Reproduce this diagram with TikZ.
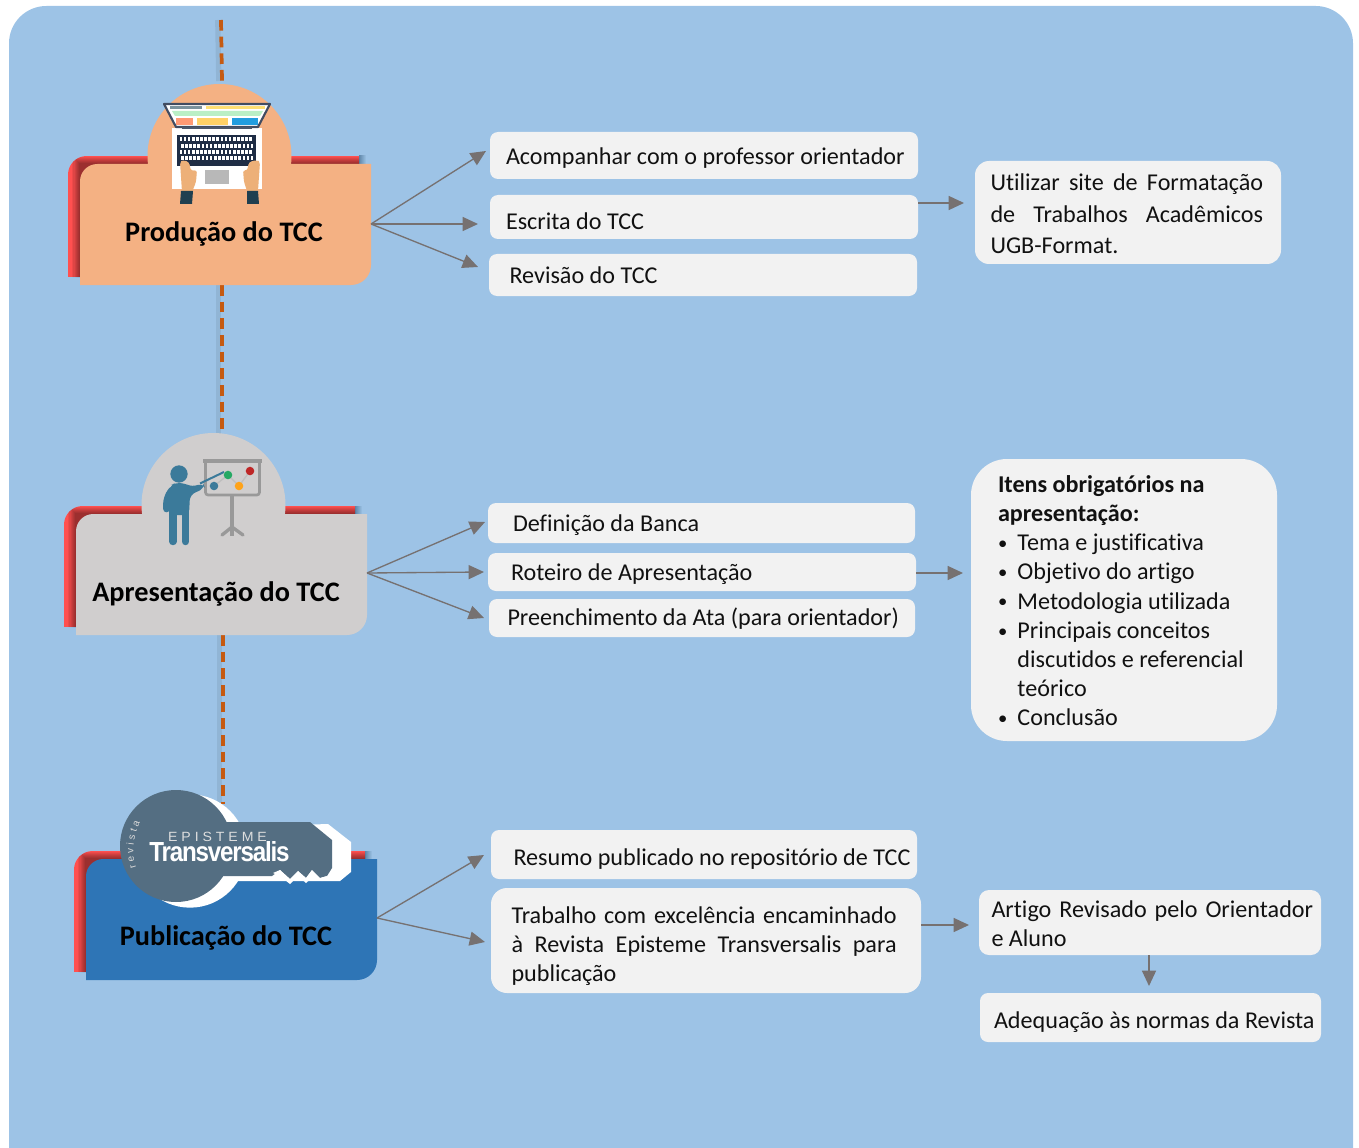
\documentclass[tikz,border=0pt]{standalone}
\usepackage{fontspec}
\setmainfont[Ligatures={TeX,CommonOff}]{Carlito}
\newfontfamily\keyfont{Liberation Sans}
\usetikzlibrary{arrows.meta,decorations.text}
\definecolor{bgblue}{HTML}{9DC3E6}
\definecolor{cardgray}{HTML}{F2F2F2}
\definecolor{peach}{HTML}{F4B183}
\definecolor{silver}{HTML}{D0CECE}
\definecolor{pubblue}{HTML}{2E75B6}
\definecolor{backred}{HTML}{FF5050}
\definecolor{dashor}{HTML}{C55A11}
\definecolor{arrgray}{HTML}{767171}
\definecolor{inkc}{HTML}{111111}
\definecolor{teal}{HTML}{3B7A9A}
\definecolor{keygray}{HTML}{546E82}
\definecolor{navyk}{HTML}{1F2D45}
\definecolor{shadeblue}{HTML}{5F86A8}
\tikzset{
 card/.style={fill=cardgray,draw=none,text=inkc,align=flush left,inner ysep=0pt,font=\fontsize{18.1}{21.9}\selectfont},
 title/.style={font=\fontsize{21.2}{25}\selectfont\bfseries,text=black,inner sep=0pt,anchor=base},
 flow/.style={draw=arrgray,line width=1pt,-{Triangle[length=11.5pt,width=10.5pt,fill=arrgray]}},
 trail/.style={draw=dashor,line width=2.8pt,dash pattern=on 8pt off 4.5pt},
 trailshade/.style={draw=black,opacity=.07,line width=4pt}
}
% name, x0, y0, x1, y1, radius, left offset, first baseline, text
\newcommand\bx[9]{%
 \pgfmathsetmacro\bxw{(#4-#2)*.75}\pgfmathsetmacro\bxh{(#5-#3)*.75}\pgfmathsetmacro\bxt{\bxw-2*#7*.75}\pgfmathsetmacro\bxr{#6*.75}\pgfmathsetmacro\bxs{#7*.75}\pgfmathsetmacro\bxu{max((#8+1.5-(#3+#5)/2)*1.5,0)}\pgfmathsetmacro\bxd{max(((#3+#5)/2-#8-1.5)*1.5,0)}%
 \node[card,rounded corners=\bxr pt,minimum width=\bxw pt,minimum height=\bxh pt,inner xsep=\bxs pt,text width=\bxt pt,text height=\bxu pt,text depth=\bxd pt] (#1) at ({(#2+#4)/2},{(#3+#5)/2}) {#9};}
\newcommand\jl[2]{\makebox[#1][s]{#2}}
\newcommand\bl{\makebox[14.6pt][l]{\raisebox{.9pt}{\fontsize{14}{14}\selectfont •}}}
% #1 x of main plate, #2 y of main plate, #3 fill, #4 circle x, #5 circle y
\newcommand\plate[5]{%
 \shade[left color=shadeblue,right color=bgblue] ({#1+279},{#2-8}) rectangle ({#1+286},{#2});
 \begin{scope}
 \path[clip] ({#1-12},{#2+113}) [rounded corners=14pt] -- ({#1-12},{#2-8}) [sharp corners] -- ({#1+279},{#2-8}) -- ({#1+279},{#2+113}) -- cycle;
 \fill[backred] ({#1-12},{#2-8}) rectangle ({#1+279},{#2+113});
 \foreach \k in {1,...,7}{
  \fill[black,opacity=.065] ({#1-\k*1.1},{#2-\k*1.0}) rectangle ({#1+291},{#2+125});}
 \end{scope}
 \fill[#3] ({#1},{#2+121}) [rounded corners=13pt] -- ({#1},{#2}) [sharp corners] -- ({#1+291},{#2}) [rounded corners=15pt] -- ({#1+291},{#2+121}) [sharp corners] -- cycle;
 \ifx&#4&\else\fill[#3] (#4,#5) circle[radius=54pt];\fi
}
\begin{document}
\begin{tikzpicture}[x=.75pt,y=-.75pt]
\useasboundingbox (0,0) rectangle (1359,1148);
\begin{scope}
\clip (0,0) rectangle (1359,1148);
\fill[bgblue,rounded corners=28pt] (9,6) rectangle (1353,1185);
\end{scope}
% trail anchors
\coordinate (t0) at (221,20);
\coordinate (t1) at (222,81);
\coordinate (t2) at (222,285);
\coordinate (t3) at (222,434);
\coordinate (t4) at (223,635);
\coordinate (t5) at (223,804);
\foreach \a/\b in {t0/t1,t2/t3,t4/t5}{
 \draw[trailshade] ([xshift=-2.4pt]\a) -- ([xshift=-2.4pt]\b);
 \draw[trail] (\a) -- (\b);}
% plates
\plate{80}{164}{peach}{219.5}{156}
\plate{76}{514}{silver}{213.5}{505}
\plate{86}{859}{pubblue}{}{}
% ---------- laptop ----------
\fill[white] (172,128) rectangle (262,189);
\fill[white,draw=navyk!85,line width=1.6pt,line join=round] (164,104) -- (270,104) -- (258,127) -- (176,127) -- cycle;
\fill[navyk!80] (182,127) rectangle (252,129);
\fill[teal!60!black!60!white] (170,106) rectangle (202,109);
\fill[orange!45!yellow!55] (206,106) rectangle (265,109);
\fill[teal!40!green!30!white] (172,111) -- (263,111) -- (260,116) -- (175,116) -- cycle;
\fill[red!45!orange!55] (176,118) rectangle (193,125);
\fill[orange!60!yellow!60] (197,118) rectangle (228,125);
\fill[cyan!80!blue!90] (232,118) rectangle (258,125);
\fill[navyk] (177,135) rectangle (256,166);
\foreach \r in {0,1,2,3}{\foreach \c in {0,...,17}{
 \fill[white] ({179.5+\c*4.1+mod(\r,2)*1.5},{137.5+\r*6.2}) rectangle ({182.2+\c*4.1+mod(\r,2)*1.5},{141.5+\r*6.2});}}
\fill[black!28] (205,170) rectangle (229,184);
\definecolor{skin}{HTML}{EDB078}\definecolor{sleeve}{HTML}{1F3F50}
\fill[skin,rounded corners=2pt] (180,162) -- (183,160) -- (189,162) -- (191,171) -- (197,170) -- (196,182) -- (192,192) -- (182,192) -- cycle;
\fill[skin,rounded corners=2pt] (260,162) -- (257,160) -- (249,162) -- (247,171) -- (243,170) -- (244,182) -- (247,191) -- (258,191) -- cycle;
\fill[sleeve] (181,191) -- (193,191) -- (192,204) -- (180,204) -- cycle;
\fill[sleeve] (247,191) -- (258,191) -- (259,204) -- (247,204) -- cycle;
% ---------- presenter ----------
\draw[black!40,line width=3pt] (203,461) -- (262,461);
\draw[black!40,line width=2pt,rounded corners=2pt] (205.5,463) -- (205.5,495) -- (259.5,495) -- (259.5,463);
\draw[black!40,line width=2.5pt] (232,495) -- (232,536);
\draw[black!40,line width=2.5pt,line cap=round] (222,535) -- (232,527) -- (243,535);
\draw[black!25,line width=1pt] (214,486) -- (228,475) -- (239,486) -- (250,471);
\fill[teal] (214,486) circle[radius=3.2pt];
\fill[green!35!teal] (228,475) circle[radius=3.2pt];
\fill[orange!80!yellow!90] (239,486) circle[radius=3.2pt];
\fill[red!70!black!85] (250,471) circle[radius=3.2pt];
\fill[teal] (179,474) circle[radius=6.5pt];
\fill[teal,rounded corners=4pt] (170,485) -- (176,483) -- (184,483) -- (192,487) -- (203,483) -- (205,488) -- (190,495) -- (189,515) -- (169,515) -- cycle;
\draw[teal,line width=5pt,line cap=round,rounded corners=5pt] (172,490) -- (166.5,497) -- (166.5,509);
\draw[teal,line width=5.6pt,line cap=round] (173,510) -- (173,541.5);
\draw[teal,line width=5.6pt,line cap=round] (185.5,510) -- (185.5,541.5);
\draw[teal,line width=1.5pt] (200,483.5) -- (224,472);
% ---------- key ----------
\fill[white] (190,851) circle[radius=42.5pt];
\fill[white] (205,828) -- (328,824) -- (351,842) -- (351,872) -- (340,881) -- (205,881) -- cycle;
\fill[keygray] (176,846) circle[radius=42pt];
\fill[keygray] (200,822) -- (310,822) -- (332,840) -- (332,868) -- (327,876) -- (320,878) -- (312,870) -- (306,878) -- (298,871) -- (290,879) -- (280,870) -- (272,876) -- (200,876) -- cycle;
\fill[white] (273,873) -- (280,870) -- (290,879) -- (298,871) -- (306,878) -- (312,870) -- (320,878) -- (327,876) -- (322,881) -- (314,876) -- (306,883) -- (298,876) -- (290,884) -- (280,876) -- cycle;
\path[decorate,decoration={text along path,text align=center,text={|\fontsize{7.5}{9}\keyfont\color{black!15}|r e v i s t a}}] (136,867) .. controls (131,852) and (134,836) .. (140,823);
\node[inner sep=0pt,text=black!13,font=\keyfont] (ep) at (217.5,836.5) {\resizebox{74pt}{7pt}{E P I S T E M E}};
\node[inner sep=0pt,text=white,font=\keyfont\bfseries\addfontfeature{LetterSpace=-5}] (tr) at (219.5,852) {\resizebox{105pt}{15pt}{Transversalis}};
% titles
\node[title] (nprod) at (224,242) {Produção do TCC};
\node[title] (napre) at (216,601.5) {Apresentação do TCC};
\node[title] (npubl) at (226,945.5) {Publicação do TCC};
\coordinate (oprod) at (371,224);
\coordinate (oapre) at (367,573);
\coordinate (opubl) at (377,918);
% cards
\bx{a1}{490}{132}{918}{179}{8}{16}{163.3}{\mbox{Acompanhar com o professor orientador}}
\bx{a2}{490}{195}{918}{239}{8}{16}{228}{\mbox{Escrita do TCC}}
\bx{a3}{489}{254}{917}{296}{8}{20.5}{281.7}{\mbox{Revisão do TCC}}
\bx{a4}{975}{161}{1281}{264}{14}{15.5}{189}{\jl{204.5pt}{Utilizar site de Formatação}\\[1.9pt]\jl{204.5pt}{de Trabalhos Acadêmicos}\\[1.9pt]UGB-Format.}
\bx{b1}{488}{503}{915}{543}{8}{25}{530}{\mbox{Definição da Banca}}
\bx{b2}{488}{553}{916}{591}{8}{23}{579}{\mbox{Roteiro de Apresentação}}
\bx{b3}{489}{599}{915}{637}{8}{18.5}{624.3}{\mbox{Preenchimento da Ata (para orientador)}}
\bx{b4}{971}{459}{1277}{741}{36}{27}{490.7}{\textbf{Itens obrigatórios na}\\\textbf{apresentação:}\\\bl Tema e justificativa\\\bl Objetivo do artigo\\\bl Metodologia utilizada\\\bl Principais conceitos\\\hspace*{14.6pt}discutidos e referencial\\\hspace*{14.6pt}teórico\\\bl Conclusão}
\bx{c1}{491}{830}{917}{879}{8}{22.5}{864}{\mbox{Resumo publicado no repositório de TCC}}
\bx{c2}{491}{888}{921}{993}{16}{20.5}{921.7}{\jl{288.8pt}{Trabalho com excelência encaminhado}\\\jl{288.8pt}{à Revista Episteme Transversalis para}\\publicação}
\bx{c3}{979}{890}{1321}{955}{10}{12.5}{915.7}{\jl{241.2pt}{Artigo Revisado pelo Orientador}\\e Aluno}
\bx{c4}{980}{993}{1321}{1042}{8}{14}{1026.7}{\mbox{Adequação às normas da Revista}}
% connectors
\draw[flow] (oprod) -- (486,151);
\draw[flow] (oprod) -- (478,224);
\draw[flow] (oprod) -- (478,267);
\draw[flow] (a2.east |- 0,203) -- (964,203);
\draw[flow] (oapre) -- (485,522);
\draw[flow] (oapre) -- (484,572);
\draw[flow] (oapre) -- (484,618);
\draw[flow] (b2.east |- 0,573) -- (963,573);
\draw[flow] (opubl) -- (484,855);
\draw[flow] (opubl) -- (485,942);
\draw[flow] (c2.east |- 0,925) -- (969,925);
\draw[flow] (c3.south -| 1149,0) -- (1149,986);
\end{tikzpicture}
\end{document}
